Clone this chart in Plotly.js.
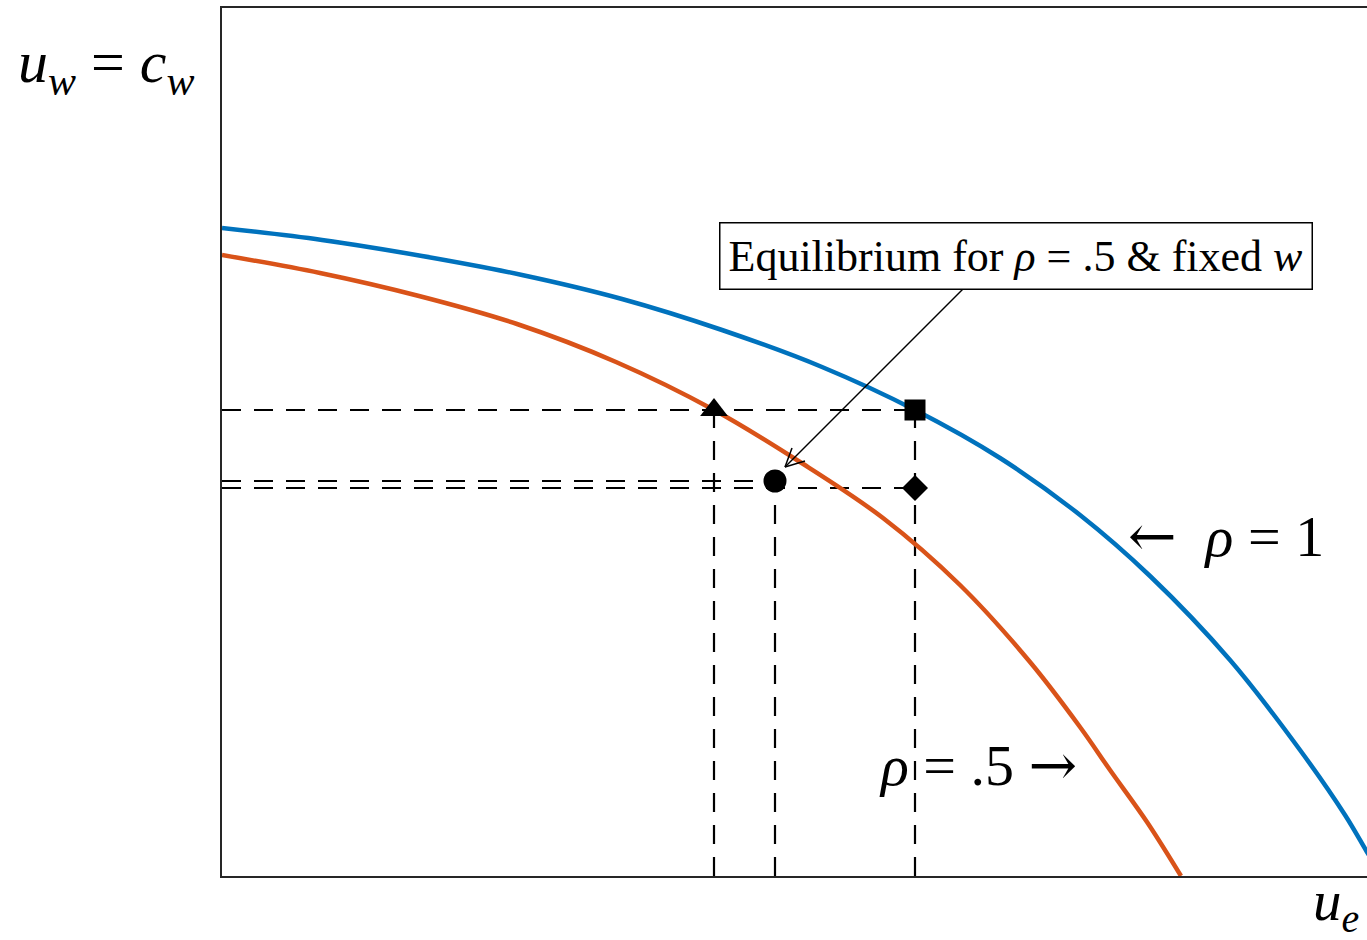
<!DOCTYPE html>
<html>
<head>
<meta charset="utf-8">
<script src="https://cdn.plot.ly/plotly-3.0.1.min.js"></script>
<style>
  html, body { margin: 0; padding: 0; background: #fff; }
  #plot { width: 1367px; height: 940px; }
</style>
</head>
<body>
<div id="plot"></div>
<script>
// Utility frontier for rho = 1 (outer) and rho = .5 (inner), in plot units
const ueRho1 = [0, 100, 200, 300, 400, 500, 600, 693, 778, 858, 928, 1008, 1078, 1123, 1145, 1163];
const uwRho1 = [648, 636, 620, 601, 577, 546, 509, 466, 418, 361, 300, 216, 126, 61, 24, -6];

const ueRho05 = [0, 98, 197, 295, 394, 492, 578, 661, 738, 808, 858, 888, 925, 959];
const uwRho05 = [621, 603, 580, 552, 514, 466, 414, 358, 291, 214, 149, 106, 54, 0];

// Marked points: [u_e, u_w]
const ptTriangle = [492, 466];  // rho = .5 at the rho = 1 wage level
const ptSquare   = [693, 466];  // rho = 1
const ptCircle   = [553, 395];  // equilibrium for rho = .5 & fixed w
const ptDiamond  = [693, 388];

const xMax = 1145, yMax = 868;

const dashStyle = {color: '#000', width: 2.2, dash: '19px,13px'};
function dropLines(p, toX, toY) {
  const tr = [];
  if (toY) tr.push({x: [0, p[0]], y: [p[1], p[1]], mode: 'lines', line: dashStyle, hoverinfo: 'skip'});
  if (toX) tr.push({x: [p[0], p[0]], y: [0, p[1]], mode: 'lines', line: dashStyle, hoverinfo: 'skip'});
  return tr;
}

const traces = [].concat(
  dropLines(ptSquare, true, true),
  dropLines(ptTriangle, true, false),
  dropLines(ptCircle, true, true),
  dropLines(ptDiamond, false, true),
  [
    {x: ueRho1, y: uwRho1, mode: 'lines', line: {color: '#0072BD', width: 4.5, shape: 'spline', smoothing: 1}, hoverinfo: 'skip'},
    {x: ueRho05, y: uwRho05, mode: 'lines', line: {color: '#D95319', width: 4.5, shape: 'spline', smoothing: 1}, hoverinfo: 'skip'},
    {x: [ptTriangle[0]], y: [ptTriangle[1]], mode: 'markers', marker: {symbol: 'triangle-up', size: 24, color: '#000'}},
    {x: [ptSquare[0]], y: [ptSquare[1]], mode: 'markers', marker: {symbol: 'square', size: 21, color: '#000'}},
    {x: [ptCircle[0]], y: [ptCircle[1]], mode: 'markers', marker: {symbol: 'circle', size: 23, color: '#000'}},
    {x: [ptDiamond[0]], y: [ptDiamond[1]], mode: 'markers', marker: {symbol: 'diamond', size: 20, color: '#000'}}
  ]
);

const serif = 'Liberation Serif, Times New Roman, serif';
const arrowFont = '<span style="font-family:DejaVu Serif">';

// pointer from the caption box down to the equilibrium point
const tip = [563, 409], tail = [743, 589];
const thin = {color: '#000', width: 1.5};
// open arrow head: two short strokes back from the tip, sized in pixels
const headArms = [[7, 19], [20, 6]];

const shapes = [
  {type: 'line', xref: 'x', yref: 'y', x0: tail[0], y0: tail[1], x1: tip[0], y1: tip[1], line: thin}
].concat(headArms.map(a => ({
  type: 'line', xref: 'x', yref: 'y',
  xsizemode: 'pixel', ysizemode: 'pixel', xanchor: tip[0], yanchor: tip[1],
  x0: 0, y0: 0, x1: a[0], y1: a[1], line: thin
})));

const layout = {
  width: 1367,
  height: 940,
  margin: {l: 222, r: 0, t: 8, b: 64},
  paper_bgcolor: '#fff',
  plot_bgcolor: '#fff',
  showlegend: false,
  xaxis: {
    range: [0, xMax], showgrid: false, zeroline: false, showticklabels: false, ticks: '',
    showline: true, mirror: true, linecolor: '#262626', linewidth: 2
  },
  yaxis: {
    range: [0, yMax], showgrid: false, zeroline: false, showticklabels: false, ticks: '',
    showline: true, linecolor: '#262626', linewidth: 2
  },
  shapes: shapes,
  annotations: [
    {
      xref: 'paper', yref: 'paper', x: -0.101, y: 0.933, xanchor: 'center', yanchor: 'middle', showarrow: false,
      text: '<i>u</i><sub><i>w</i></sub> = <i>c</i><sub><i>w</i></sub>',
      font: {family: serif, size: 60, color: '#000'}
    },
    {
      xref: 'paper', yref: 'paper', x: 0.973, y: -0.033, xanchor: 'center', yanchor: 'middle', showarrow: false,
      text: '<i>u</i><sub><i>e</i></sub>',
      font: {family: serif, size: 57, color: '#000'}
    },
    {
      xref: 'x', yref: 'y', x: 1004, y: 340, xanchor: 'center', yanchor: 'middle', showarrow: false,
      text: arrowFont + '\u2190</span>  <i>\u03c1</i> = 1',
      font: {family: serif, size: 58, color: '#000'}
    },
    {
      xref: 'x', yref: 'y', x: 756, y: 111, xanchor: 'center', yanchor: 'middle', showarrow: false,
      text: '<i>\u03c1</i> = .5 ' + arrowFont + '\u2192</span>',
      font: {family: serif, size: 58, color: '#000'}
    },
    {
      xref: 'x', yref: 'y', x: 794, y: 620.5, xanchor: 'center', yanchor: 'middle', showarrow: false,
      text: 'Equilibrium for <i>\u03c1</i> = .5 &amp; fixed <i>w</i>',
      font: {family: serif, size: 44, color: '#000'},
      bordercolor: '#000', borderwidth: 1.5, borderpad: 8, bgcolor: '#fff'
    }
  ]
};

Plotly.newPlot('plot', traces, layout, {staticPlot: true, displayModeBar: false});
</script>
</body>
</html>
